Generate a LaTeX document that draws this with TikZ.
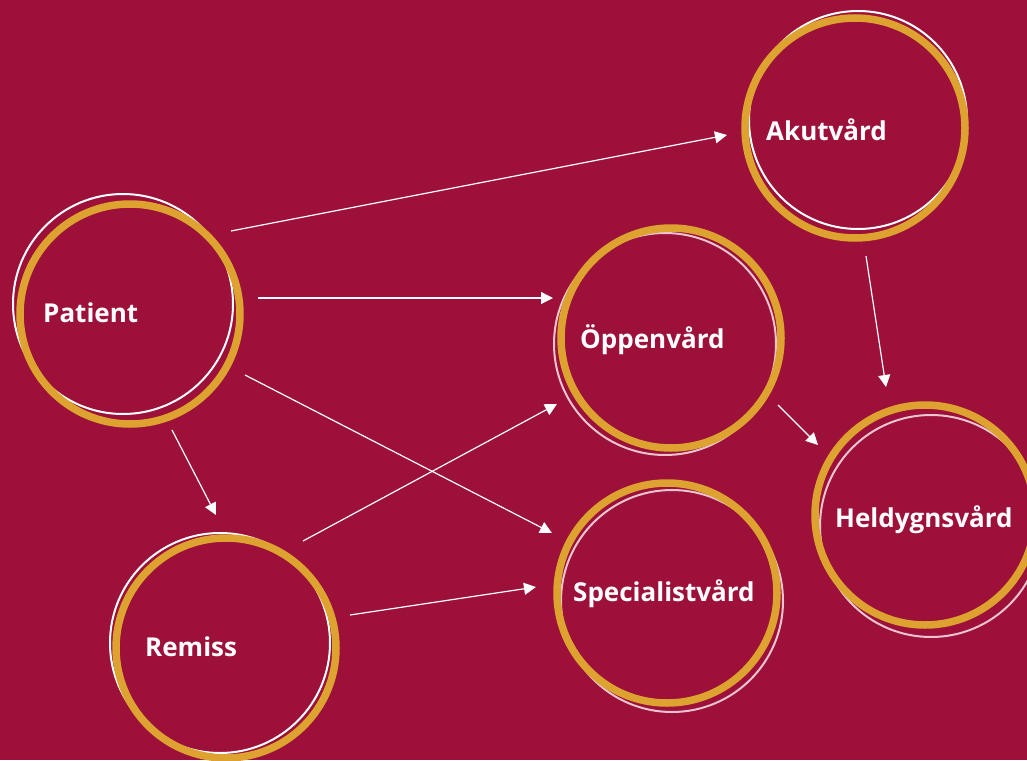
\documentclass[tikz,border=0pt]{standalone}
\usepackage{fontspec}
\setmainfont{Open Sans}
\usetikzlibrary{arrows.meta}
\definecolor{bg}{RGB}{157,16,57}
\definecolor{gold}{RGB}{221,162,47}
\definecolor{pinkw}{RGB}{236,196,208}
\begin{document}
\begin{tikzpicture}[x=1pt,y=-1pt,
  ring/.style={draw=gold,line width=7.5pt,circle,minimum size=220pt,inner sep=0pt},
  wring/.style={draw=white,line width=2pt,circle,minimum size=220pt,inner sep=0pt},
  pring/.style={draw=pinkw,line width=2pt,circle,minimum size=222pt,inner sep=0pt},
  lbl/.style={text=white,font=\bfseries\fontsize{26}{30}\selectfont,anchor=base west,inner sep=0pt},
  arr/.style={draw=white,line width=1.2pt,-{Triangle[length=12pt,width=12pt]}}]
\useasboundingbox (0,0) rectangle (1027,760);
\fill[bg] (0,0) rectangle (1027,760);
% white rings
\node[wring] (patw) at (123,304) {};
\node[wring,minimum size=218pt] (akuw) at (858,120) {};
\node[pring] (oppw) at (665,344) {};
\node[pring] (helw) at (931,526) {};
\node[pring] (spew) at (672,601) {};
\node[wring] (remw) at (220,643) {};
% gold rings
\node[ring] (pat) at (130,314) {};
\node[ring] (aku) at (855,128) {};
\node[ring] (opp) at (671,338) {};
\node[ring] (hel) at (925,515) {};
\node[ring] (spe) at (667,593) {};
\node[ring] (rem) at (226,648) {};
% labels
\node[lbl] (patl) at (43,322) {Patient};
\node[lbl] (akul) at (766,140) {Akutvård};
\node[lbl] (oppl) at (580,348) {Öppenvård};
\node[lbl] (hell) at (835,527) {Heldygnsvård};
\node[lbl] (spel) at (573,601) {Specialistvård};
\node[lbl] (reml) at (145,656) {Remiss};
% connector end points
\coordinate (a1s) at (231,231); \coordinate (a1e) at (727,135);
\coordinate (a2s) at (258,298); \coordinate (a2e) at (553,298);
\coordinate (a3s) at (245,375); \coordinate (a3e) at (552,533);
\coordinate (a4s) at (172,430); \coordinate (a4e) at (216,515);
\coordinate (a5s) at (303,541); \coordinate (a5e) at (557,404);
\coordinate (a6s) at (350,615); \coordinate (a6e) at (536,587);
\coordinate (a7s) at (778,405); \coordinate (a7e) at (818,445);
\coordinate (a8s) at (866,256); \coordinate (a8e) at (886,387);
\draw[arr] (a1s) -- (a1e);
\draw[arr] (a2s) -- (a2e);
\draw[arr] (a3s) -- (a3e);
\draw[arr] (a4s) -- (a4e);
\draw[arr] (a5s) -- (a5e);
\draw[arr] (a6s) -- (a6e);
\draw[arr] (a7s) -- (a7e);
\draw[arr] (a8s) -- (a8e);
\end{tikzpicture}
\end{document}
